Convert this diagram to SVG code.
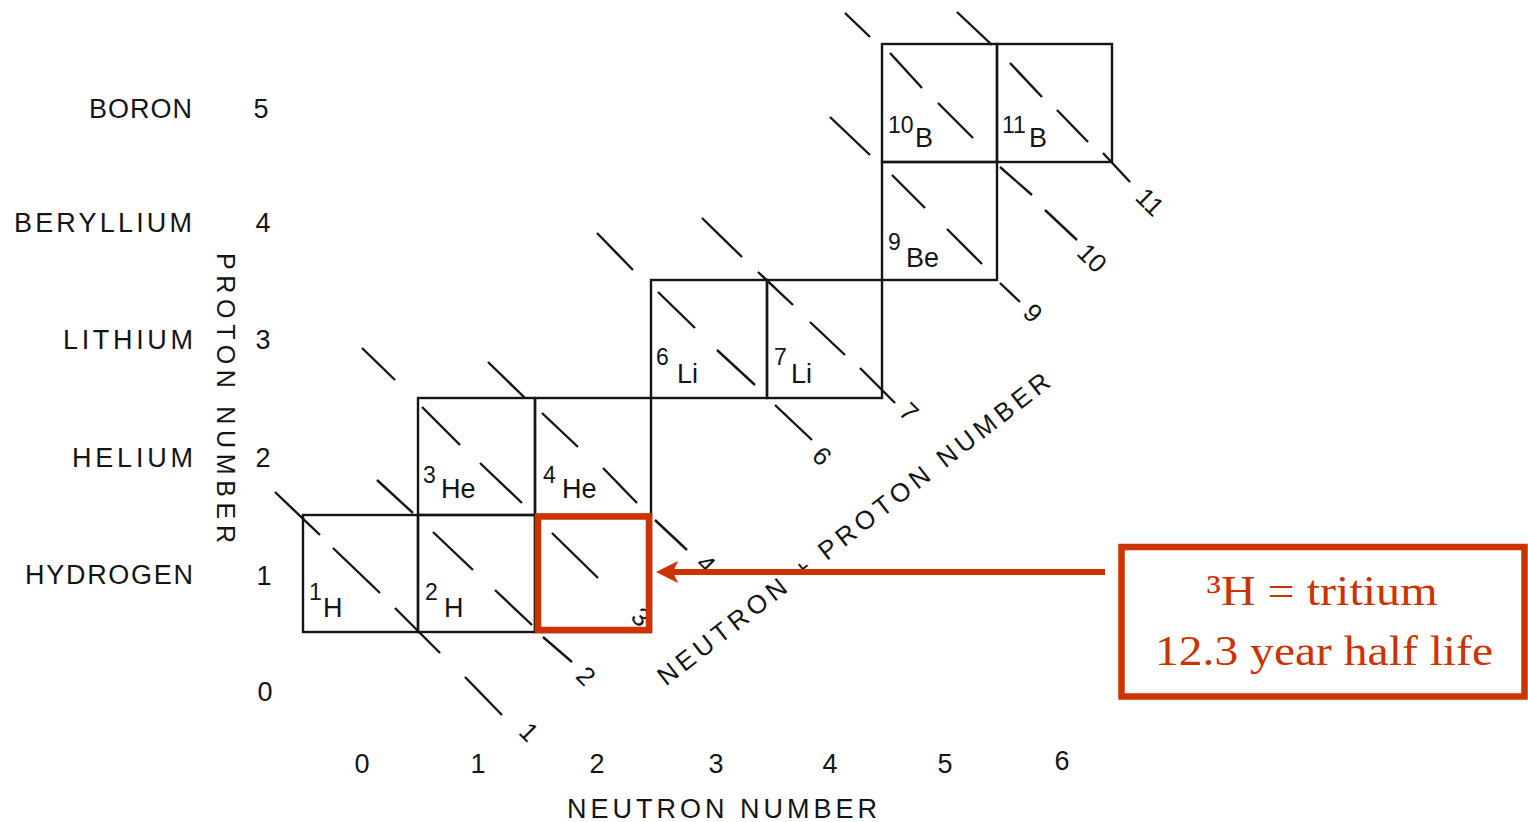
<svg xmlns="http://www.w3.org/2000/svg" width="1528" height="822" viewBox="0 0 1528 822">
<defs>
<style>
.cell{fill:none;stroke:#151515;stroke-width:2.4}
.dash{fill:none;stroke:#151515;stroke-width:2.4}
.t{font-family:"Liberation Sans",Arial,sans-serif;fill:#151515}
.el{font-size:27px}
.sup{font-size:23px}
.ax{font-size:27px}
.num{font-size:27px;text-anchor:middle}
.alab{font-size:26px;text-anchor:middle;dominant-baseline:central}
.red{fill:none;stroke:#CC3300;stroke-width:6.5}
.rt{font-family:"Liberation Serif","Times New Roman",serif;fill:#CC3300;font-size:43px;text-anchor:middle}
</style>
<marker id="arrowhead" viewBox="0 0 22 22" refX="10" refY="11" markerWidth="22" markerHeight="22" markerUnits="userSpaceOnUse" orient="auto">
<path d="M0,0 L22,11 L0,22 L5,11 Z" fill="#CC3300"/>
</marker>
</defs>
<rect width="1528" height="822" fill="#ffffff"/>

<g id="proton-axis">
<text class="t ax" x="192" y="118" text-anchor="end" textLength="103">BORON</text>
<text class="t ax" x="192" y="232" text-anchor="end" textLength="178">BERYLLIUM</text>
<text class="t ax" x="193" y="349" text-anchor="end" textLength="130">LITHIUM</text>
<text class="t ax" x="193" y="467" text-anchor="end" textLength="121">HELIUM</text>
<text class="t ax" x="193" y="584" text-anchor="end" textLength="168">HYDROGEN</text>
<text class="t num" x="261" y="118">5</text>
<text class="t num" x="263" y="232">4</text>
<text class="t num" x="263" y="349">3</text>
<text class="t num" x="263" y="467">2</text>
<text class="t num" x="264" y="585">1</text>
<text class="t num" x="265" y="701">0</text>
<text class="t" font-size="25" x="217" y="398" text-anchor="middle" textLength="290" transform="rotate(90 217 398)">PROTON NUMBER</text>
</g>

<g id="neutron-axis">
<text class="t num" x="362" y="773">0</text>
<text class="t num" x="478" y="773">1</text>
<text class="t num" x="597" y="773">2</text>
<text class="t num" x="716" y="773">3</text>
<text class="t num" x="830" y="773">4</text>
<text class="t num" x="945" y="773">5</text>
<text class="t num" x="1062" y="770">6</text>
<text class="t" font-size="27" x="722" y="818" text-anchor="middle" textLength="310">NEUTRON NUMBER</text>
</g>

<g id="mass-lines">
<path class="dash" d="M275,492 L320,535 M333,548 L380,593 M395,608 L440,653 M465,677 L502,715"/>
<path class="dash" d="M377,480 L413,513 M433,532 L473,570 M495,590 L532,625 M543,637 L572,662"/>
<path class="dash" d="M362,348 L395,380 M422,407 L460,445 M480,463 L522,503 M552,533 L598,578"/>
<path class="dash" d="M488,362 L525,398 M542,413 L578,447 M603,468 L637,503 M655,520 L687,550"/>
<path class="dash" d="M597,233 L633,270 M658,292 L695,328 M717,350 L755,385 M775,405 L812,440"/>
<path class="dash" d="M702,218 L742,257 M758,272 L793,305 M810,322 L845,355 M860,368 L895,403"/>
<path class="dash" d="M830,117 L870,155 M892,175 L925,208 M947,229 L982,264 M1000,283 L1020,302"/>
<path class="dash" d="M845,13 L870,37 M890,53 L922,88 M938,103 L973,138 M1000,167 L1032,195 M1045,210 L1077,240"/>
<path class="dash" d="M957,12 L992,45 M1010,63 L1042,97 M1057,110 L1088,142 M1103,153 L1130,182"/>
<text class="t alab" x="529" y="732" transform="rotate(45 529 732)">1</text>
<text class="t alab" x="586" y="676" transform="rotate(45 586 676)">2</text>
<text class="t alab" x="641" y="617" transform="rotate(45 641 617)">3</text>
<text class="t alab" x="706" y="564" transform="rotate(45 706 564)">4</text>
<text class="t alab" x="822" y="456" transform="rotate(45 822 456)">6</text>
<text class="t alab" x="909" y="412" transform="rotate(45 909 412)">7</text>
<text class="t alab" x="1033" y="313" transform="rotate(45 1033 313)">9</text>
<text class="t alab" x="1092" y="258" transform="rotate(45 1092 258)">10</text>
<text class="t alab" x="1150" y="202" transform="rotate(45 1150 202)">11</text>
<text class="t" font-size="26" x="859" y="536" text-anchor="middle" textLength="490" transform="rotate(-38 859 536)">NEUTRON + PROTON NUMBER</text>
</g>

<g id="cell-1H">
<rect class="cell" x="303" y="515" width="115" height="117"/>
<text class="t"><tspan class="sup" x="309" y="600">1</tspan><tspan class="el" x="323" y="617">H</tspan></text>
</g>
<g id="cell-2H">
<rect class="cell" x="418" y="515" width="117" height="117"/>
<text class="t"><tspan class="sup" x="425" y="600">2</tspan><tspan class="el" x="444" y="617">H</tspan></text>
</g>
<g id="cell-3H">
<rect class="cell" x="535" y="515" width="116" height="117"/>
</g>
<g id="cell-3He">
<rect class="cell" x="418" y="398" width="117" height="117"/>
<text class="t"><tspan class="sup" x="423" y="483">3</tspan><tspan class="el" x="441" y="498">He</tspan></text>
</g>
<g id="cell-4He">
<rect class="cell" x="535" y="398" width="116" height="117"/>
<text class="t"><tspan class="sup" x="543" y="483">4</tspan><tspan class="el" x="562" y="498">He</tspan></text>
</g>
<g id="cell-6Li">
<rect class="cell" x="651" y="280" width="116" height="118"/>
<text class="t"><tspan class="sup" x="656" y="365">6</tspan><tspan class="el" x="677" y="383">Li</tspan></text>
</g>
<g id="cell-7Li">
<rect class="cell" x="767" y="280" width="115" height="118"/>
<text class="t"><tspan class="sup" x="774" y="365">7</tspan><tspan class="el" x="791" y="383">Li</tspan></text>
</g>
<g id="cell-9Be">
<rect class="cell" x="882" y="162" width="115" height="118"/>
<text class="t"><tspan class="sup" x="888" y="250">9</tspan><tspan class="el" x="906" y="267">Be</tspan></text>
</g>
<g id="cell-10B">
<rect class="cell" x="882" y="44" width="115" height="118"/>
<text class="t"><tspan class="sup" x="888" y="133">10</tspan><tspan class="el" x="915" y="147">B</tspan></text>
</g>
<g id="cell-11B">
<rect class="cell" x="997" y="44" width="115" height="118"/>
<text class="t"><tspan class="sup" x="1002" y="133">11</tspan><tspan class="el" x="1029" y="147">B</tspan></text>
</g>

<g id="highlight-3H">
<rect class="red" x="538" y="516.5" width="111" height="113.5"/>
</g>

<g id="connectors">
<line x1="1105" y1="572" x2="668" y2="572" stroke="#CC3300" stroke-width="6" marker-end="url(#arrowhead)"/>
</g>

<g id="callout">
<rect class="red" x="1121.5" y="547" width="403" height="149.5" stroke-width="7"/>
<text class="rt" x="1322" y="605" textLength="231" lengthAdjust="spacingAndGlyphs">³H = tritium</text>
<text class="rt" x="1324" y="665" textLength="338" lengthAdjust="spacingAndGlyphs">12.3 year half life</text>
</g>
</svg>
